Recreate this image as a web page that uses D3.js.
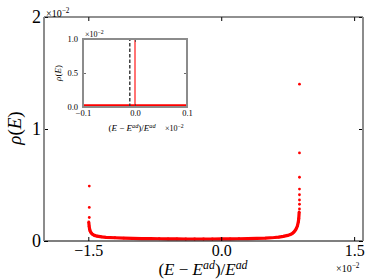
<!DOCTYPE html>
<html>
<head>
<meta charset="utf-8">
<script src="https://cdn.jsdelivr.net/npm/d3@7"></script>
<style>
body { margin: 0; background: #fff; }
svg { display: block; }
text { font-family: "Liberation Serif", "DejaVu Serif", serif; fill: #000; }
</style>
</head>
<body>
<svg id="chart" width="374" height="280"></svg>
<script>
// values in units of 1e-2
const xTickVals = [-1.5, 0, 1.5];
const xTickLabels = ['\u22121.5', '0.0', '1.5'];
const yTickVals = [0, 1, 2];
const yTickLabels = ['0', '1', '2'];

const insetXTickVals = [-0.1, 0, 0.1];
const insetXTickLabels = ['\u22120.1', '0.0', '0.1'];
const insetYTickVals = [0, 0.5, 1];
const insetYTickLabels = ['0.0', '0.5', '1.0'];

// dense part of the density (x, rho)
const denseX = [-1.495, -1.49, -1.485, -1.48, -1.47, -1.46, -1.45, -1.43, -1.40, -1.35, -1.30, -1.20, -1.10, -1.0,
    -0.9, -0.8, -0.7, -0.6, -0.5, -0.4, -0.3, -0.2, -0.1, 0.0, 0.1, 0.2, 0.3, 0.4, 0.5, 0.6, 0.65, 0.7,
    0.75, 0.78, 0.80, 0.82, 0.84, 0.85, 0.86, 0.87, 0.875, 0.88];
const denseY = [0.17, 0.13, 0.105, 0.09, 0.075, 0.065, 0.058, 0.05, 0.043, 0.037, 0.033, 0.029, 0.026, 0.024,
    0.022, 0.021, 0.02, 0.019, 0.019, 0.018, 0.018, 0.018, 0.018, 0.019, 0.019, 0.02, 0.021, 0.023, 0.026, 0.031, 0.035, 0.041,
    0.05, 0.058, 0.066, 0.08, 0.1, 0.115, 0.135, 0.17, 0.2, 0.26];

// isolated points at the band edges
const edgeX = [-1.489, -1.489, -1.489, 0.883, 0.883, 0.883, 0.883, 0.883, 0.883, 0.883, 0.883];
const edgeY = [0.49, 0.30, 0.21, 1.40, 0.786, 0.569, 0.464, 0.413, 0.366, 0.328, 0.286];

// inset reference lines
const refLineX = 0.0;      // red solid
const dashedLineX = -0.01; // black dashed

const red = '#ff0000';
const gray = '#8c8c8c';

const svg = d3.select('#chart');

const x = d3.scaleLinear().domain([-2, 1.6]).range([44, 363]);
const y = d3.scaleLinear().domain([0, 2]).range([241, 17]);

const dense = denseX.map((v, i) => ({ x: v, y: denseY[i] }));
const edge = edgeX.map((v, i) => ({ x: v, y: edgeY[i] }));

// helper for math-ish labels
function mathText(sel, parts, size) {
    parts.forEach(p => {
        const t = sel.append('tspan').text(p.t);
        if (p.i) t.attr('font-style', 'italic');
        if (p.sup) {
            t.attr('font-size', size * 0.7).attr('dy', -size * 0.36);
        } else if (p.after) {
            t.attr('dy', size * 0.36);
        }
    });
}

function sciLabel(g, px, py, size) {
    const t = g.append('text').attr('x', px).attr('y', py).attr('font-size', size);
    t.append('tspan').text('\u00d710');
    t.append('tspan').text('\u22122').attr('font-size', size * 0.72).attr('dy', -size * 0.4);
}

const labelParts = [
    { t: '(' }, { t: 'E', i: true }, { t: ' \u2212 ' }, { t: 'E', i: true },
    { t: 'ad', i: true, sup: true }, { t: ')/', after: true }, { t: 'E', i: true }, { t: 'ad', i: true, sup: true }
];

// main data
const main = svg.append('g');
main.append('path')
    .datum(dense)
    .attr('fill', 'none')
    .attr('stroke', red)
    .attr('stroke-width', 3.2)
    .attr('d', d3.line().x(d => x(d.x)).y(d => y(d.y)));
main.selectAll('circle.d')
    .data(dense.concat(edge))
    .join('circle')
    .attr('class', 'd')
    .attr('cx', d => x(d.x))
    .attr('cy', d => y(d.y))
    .attr('r', 1.4)
    .attr('fill', red);

// main axes ticks (inward)
function tickAxis(axis, transform, vals, labels, pad, size) {
    const g = svg.append('g').attr('transform', transform)
        .call(axis.tickValues(vals).tickSizeInner(-4).tickSizeOuter(0).tickPadding(pad)
            .tickFormat((d, i) => labels ? labels[i] : ''));
    g.select('.domain').remove();
    g.selectAll('line').attr('stroke', '#000').attr('stroke-width', 1);
    g.selectAll('text').attr('font-size', size).attr('font-family', '"Liberation Serif", serif');
    return g;
}
tickAxis(d3.axisBottom(x), 'translate(0,241)', xTickVals, xTickLabels, 4, 16);
tickAxis(d3.axisTop(x), 'translate(0,17)', xTickVals, null, 0, 16);
tickAxis(d3.axisLeft(y), 'translate(44,0)', yTickVals, yTickLabels, 3, 18);
tickAxis(d3.axisRight(y), 'translate(363,0)', yTickVals, null, 0, 18);

// spines
svg.append('line').attr('x1', 44).attr('x2', 363).attr('y1', 17).attr('y2', 17).attr('stroke', '#222').attr('stroke-width', 1.2);
svg.append('line').attr('x1', 44).attr('x2', 363).attr('y1', 241).attr('y2', 241).attr('stroke', '#000').attr('stroke-width', 1.2);
svg.append('line').attr('x1', 44).attr('x2', 44).attr('y1', 17).attr('y2', 241).attr('stroke', gray).attr('stroke-width', 2);
svg.append('line').attr('x1', 363).attr('x2', 363).attr('y1', 17).attr('y2', 241).attr('stroke', gray).attr('stroke-width', 2);

// main labels
const xl = svg.append('text').attr('x', 203).attr('y', 275).attr('text-anchor', 'middle').attr('font-size', 17);
mathText(xl, labelParts, 17);
svg.append('text').attr('transform', 'translate(21,128) rotate(-90)').attr('text-anchor', 'middle')
    .attr('font-size', 19)
    .call(t => mathText(t, [{ t: '\u03c1', i: true }, { t: '(' }, { t: 'E', i: true }, { t: ')' }], 19));
sciLabel(svg, 46, 17, 10);
sciLabel(svg, 336, 272, 10);

// inset
const ix = d3.scaleLinear().domain([-0.1, 0.1]).range([83, 187]);
const iy = d3.scaleLinear().domain([0, 1]).range([107, 39]);
const inset = svg.append('g');
inset.append('rect').attr('x', 83).attr('y', 39).attr('width', 104).attr('height', 68).attr('fill', '#fff');
inset.append('clipPath').attr('id', 'iclip')
    .append('rect').attr('x', 83).attr('y', 39).attr('width', 104).attr('height', 68);

const idata = inset.append('g').attr('clip-path', 'url(#iclip)');
idata.append('path')
    .datum(dense)
    .attr('fill', 'none')
    .attr('stroke', red)
    .attr('stroke-width', 3)
    .attr('d', d3.line().x(d => ix(d.x)).y(d => iy(d.y)));
idata.append('line')
    .attr('x1', ix(dashedLineX)).attr('x2', ix(dashedLineX))
    .attr('y1', iy(0)).attr('y2', iy(1))
    .attr('stroke', '#333').attr('stroke-width', 1.4).attr('stroke-dasharray', '3.5,2');
idata.append('line')
    .attr('x1', ix(refLineX)).attr('x2', ix(refLineX))
    .attr('y1', iy(0)).attr('y2', iy(1))
    .attr('stroke', red).attr('stroke-width', 1.1);

function insetAxis(axis, transform, vals, labels, pad) {
    const g = inset.append('g').attr('transform', transform)
        .call(axis.tickValues(vals).tickSizeInner(-3).tickSizeOuter(0).tickPadding(pad)
            .tickFormat((d, i) => labels ? labels[i] : ''));
    g.select('.domain').remove();
    g.selectAll('line').attr('stroke', '#444').attr('stroke-width', 0.8);
    g.selectAll('text').attr('font-size', 8.5).attr('font-family', '"Liberation Serif", serif');
    return g;
}
insetAxis(d3.axisBottom(ix), 'translate(0,107)', insetXTickVals, insetXTickLabels, 3);
insetAxis(d3.axisTop(ix), 'translate(0,39)', insetXTickVals, null, 0);
insetAxis(d3.axisLeft(iy), 'translate(83,0)', insetYTickVals, insetYTickLabels, 5);
insetAxis(d3.axisRight(iy), 'translate(187,0)', insetYTickVals, null, 0);

inset.append('rect').attr('x', 83).attr('y', 39).attr('width', 104).attr('height', 68)
    .attr('fill', 'none').attr('stroke', gray).attr('stroke-width', 2);

const ixl = inset.append('text').attr('x', 132).attr('y', 131).attr('text-anchor', 'middle').attr('font-size', 9);
mathText(ixl, labelParts, 9);
inset.append('text').attr('transform', 'translate(61,73) rotate(-90)').attr('text-anchor', 'middle')
    .attr('font-size', 9)
    .call(t => mathText(t, [{ t: '\u03c1', i: true }, { t: '(' }, { t: 'E', i: true }, { t: ')' }], 9));
sciLabel(inset, 85, 37, 8);
sciLabel(inset, 165, 131, 8);
</script>
</body>
</html>
